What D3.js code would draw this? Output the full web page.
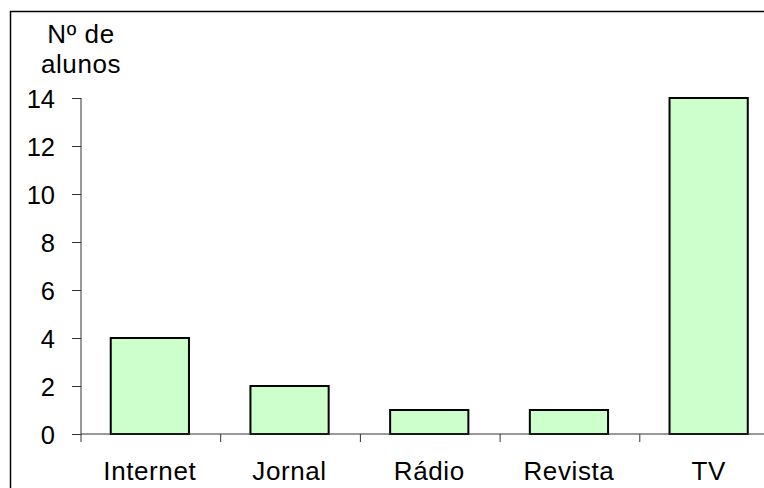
<!DOCTYPE html>
<html><head><meta charset="utf-8">
<script src="https://cdn.jsdelivr.net/npm/d3@7"></script>
<style>body{margin:0;background:#fff}svg{display:block}text{font-family:Arial,"Liberation Sans",sans-serif;fill:#000}</style>
</head><body>
<svg id="c" width="764" height="488"></svg>
<script>
const categories = ["Internet","Jornal","Rádio","Revista","TV"];
const values = [4,2,1,1,14];
const yTicks = [0,2,4,6,8,10,12,14];
const yTitle = ["Nº de","alunos"];

const svg = d3.select("#c");
svg.append("rect").attr("x",10.5).attr("y",11.5).attr("width",800).attr("height",600)
  .attr("fill","none").attr("stroke","#000").attr("stroke-width",1.5);

const x0 = 81, x1 = 779.5;
const xb = d3.scaleBand().domain(categories).range([x0,x1]).padding(0);
const xBar = d3.scaleBand().domain(categories).range([x0,x1]).paddingInner(0.44).paddingOuter(0.22);
const y = d3.scaleLinear().domain([0,14]).range([434,98]);

// bars
svg.selectAll("rect.bar").data(categories).join("rect").attr("class","bar")
  .attr("x",d=>xBar(d)-1).attr("width",xBar.bandwidth())
  .attr("y",(d,i)=>y(values[i])).attr("height",(d,i)=>y(0)-y(values[i]))
  .attr("fill","#CCFFCC").attr("stroke","#000").attr("stroke-width",2);

// y axis
const ya = svg.append("g").attr("transform",`translate(${x0},0)`)
  .call(d3.axisLeft(y).tickValues(yTicks).tickSize(9).tickPadding(17).tickSizeOuter(0));
ya.select(".domain").remove();
ya.selectAll(".tick line").attr("stroke","#333");
ya.selectAll("text").style("font-size","25.5px").attr("dy","0.36em");
ya.append("line").attr("x1",0).attr("x2",0).attr("y1",y(14)).attr("y2",y(0)+8).attr("stroke","#333");

// x axis
svg.append("line").attr("x1",x0).attr("x2",x1).attr("y1",y(0)).attr("y2",y(0)).attr("stroke","#333");
svg.selectAll("line.xt").data(categories.slice(1)).join("line").attr("class","xt")
  .attr("x1",d=>xb(d)).attr("x2",d=>xb(d)).attr("y1",y(0)).attr("y2",y(0)+8).attr("stroke","#333");
svg.selectAll("text.xl").data(categories).join("text").attr("class","xl")
  .attr("x",d=>xb(d)+xb.bandwidth()/2-1).attr("y",480).attr("text-anchor","middle")
  .style("font-size","26px").style("letter-spacing","0.6px").text(d=>d);

// title
svg.selectAll("text.t").data(yTitle).join("text").attr("class","t")
  .attr("x",81).attr("y",(d,i)=>42.5+i*30).attr("text-anchor","middle")
  .style("font-size","26px").style("letter-spacing","0.6px").text(d=>d);
</script>
</body></html>
